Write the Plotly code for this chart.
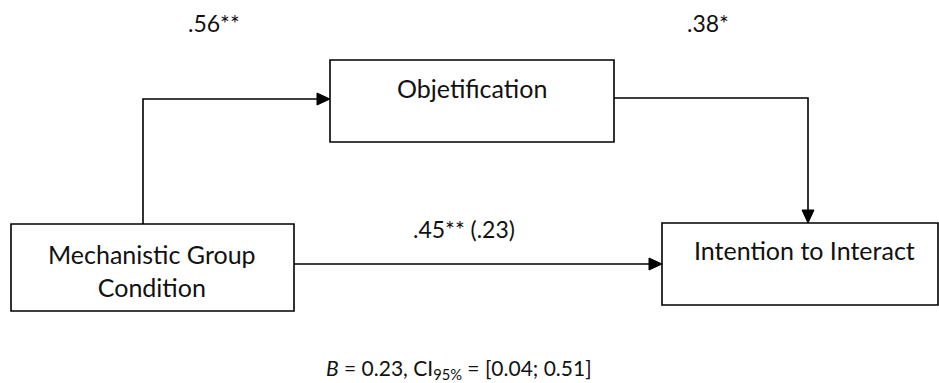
import plotly.graph_objects as go

# ---- data ----
node_labels = ["Mechanistic Group<br>Condition", "Objetification", "Intention to Interact"]
path_a = ".56**"
path_b = ".38*"
path_c = ".45** (.23)"
indirect_B = "0.23"
ci_low = "0.04"
ci_high = "0.51"

# ---- geometry (pixel canvas) ----
W, H = 939, 383
boxes = {
    "X": (11, 224, 294, 311),
    "M": (330, 60, 614, 142),
    "Y": (662, 223, 938, 305),
}
LW = 1.6
FAM = "Lato, Open Sans, sans-serif"
FONT_L = dict(family=FAM, size=25, color="#111")
FONT_C = dict(family=FAM, size=23, color="#111")
FONT_S = dict(family=FAM, size=21, color="#111")

fig = go.Figure()
fig.add_trace(go.Scatter(x=[0, W], y=[0, H], mode="markers", marker=dict(opacity=0), hoverinfo="skip", showlegend=False))

for k, (x0, y0, x1, y1) in boxes.items():
    fig.add_shape(type="rect", x0=x0, y0=y0, x1=x1, y1=y1, line=dict(color="#000", width=LW), fillcolor="white")

# node labels
fig.add_annotation(x=152, y=270, text=node_labels[0], showarrow=False, font=FONT_L, align="center")
fig.add_annotation(x=472, y=88, text=node_labels[1], showarrow=False, font=FONT_L)
fig.add_annotation(x=804, y=250, text=node_labels[2], showarrow=False, font=FONT_L)

# connector lines
line = dict(color="#000", width=LW)
fig.add_shape(type="path", path="M 143 224 L 143 99 L 320 99", line=line)
fig.add_shape(type="path", path="M 614 98 L 808 98 L 808 212", line=line)
fig.add_shape(type="line", x0=294, y0=264, x1=652, y1=264, line=line)

def arrowhead(tx, ty, direction, L=13, Wd=12):
    if direction == "right":
        p = f"M {tx} {ty} L {tx-L} {ty-Wd/2} L {tx-L} {ty+Wd/2} Z"
    else:  # down
        p = f"M {tx} {ty} L {tx-Wd/2} {ty-L} L {tx+Wd/2} {ty-L} Z"
    fig.add_shape(type="path", path=p, fillcolor="#000", line=dict(color="#000", width=1))

arrowhead(330, 99, "right")
arrowhead(808, 223, "down")
arrowhead(662, 264, "right")

# coefficients
fig.add_annotation(x=214, y=23, text=path_a, showarrow=False, font=FONT_C)
fig.add_annotation(x=708, y=23, text=path_b, showarrow=False, font=FONT_C)
fig.add_annotation(x=464, y=229, text=path_c, showarrow=False, font=FONT_C)

fig.add_annotation(x=459, y=369,
                   text=f"<i>B</i> = {indirect_B}, CI<sub>95%</sub> = [{ci_low}; {ci_high}]",
                   showarrow=False, font=FONT_S)

fig.update_xaxes(range=[0, W], visible=False, fixedrange=True)
fig.update_yaxes(range=[H, 0], visible=False, fixedrange=True)
fig.update_layout(width=W, height=H, margin=dict(l=0, r=0, t=0, b=0),
                  plot_bgcolor="white", paper_bgcolor="white", showlegend=False)
fig.write_html("out.html", config={"displayModeBar": False},
               post_script="document.body.style.margin='0';document.body.style.overflow='hidden';")
